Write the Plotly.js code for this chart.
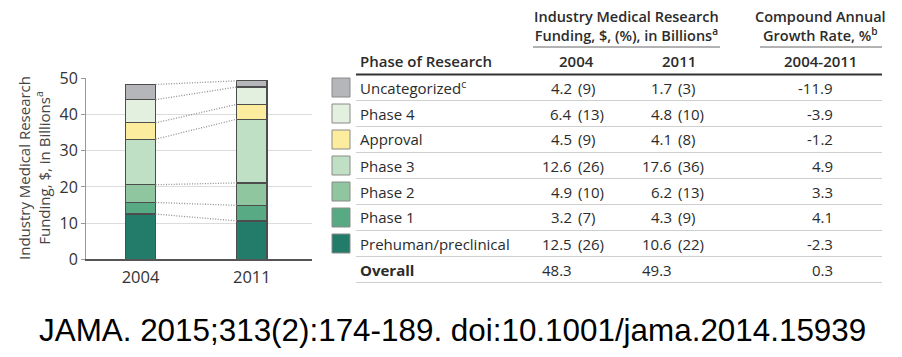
<!DOCTYPE html>
<html>
<head>
<meta charset="utf-8">
<script src="https://cdn.plot.ly/plotly-3.0.1.min.js"></script>
<style>html,body{margin:0;padding:0;background:#fff;}#chart{width:902px;height:357px;}</style>
</head>
<body>
<div id="chart"></div>
<script>
// ---- data (bottom of stack first) ----
const phases = ['Prehuman/preclinical', 'Phase 1', 'Phase 2', 'Phase 3', 'Approval', 'Phase 4', 'Uncategorized'];
const phaseLabels = ['Prehuman/preclinical', 'Phase 1', 'Phase 2', 'Phase 3', 'Approval', 'Phase 4', 'Uncategorized<sup>c</sup>'];
const years = ['2004', '2011'];
const fund2004 = [12.5, 3.2, 4.9, 12.6, 4.5, 6.4, 4.2];
const fund2011 = [10.6, 4.3, 6.2, 17.6, 4.1, 4.8, 1.7];
const pct2004 = [26, 7, 10, 26, 9, 13, 9];
const pct2011 = [22, 9, 13, 36, 8, 10, 3];
const cagr = ['-2.3', '4.1', '3.3', '4.9', '-1.2', '-3.9', '-11.9'];
const overall2004 = '48.3';
const overall2011 = '49.3';
const overallCagr = '0.3';
const yTicks = [0, 10, 20, 30, 40, 50];

// ---- styles ----
const colors = ['#237b69', '#58aa84', '#8fc6a0', '#c0e0c5', '#fcec9e', '#e3efdf', '#b5b6b9'];
const FONT = 'Open Sans, Noto Sans, sans-serif';
const TXT = '#2b2b2b';
const W = 902, H = 357;
const X = p => p / W;
const Y = p => 1 - p / H;
const barW = 0.27;

const traces = [];
phases.forEach((p, i) => {
  traces.push({
    type: 'bar', name: p, x: [0, 1], y: [fund2004[i], fund2011[i]],
    width: barW, marker: {color: colors[i], line: {color: '#4d4d4d', width: 1.2}},
    hoverinfo: 'skip', showlegend: false
  });
});
// dotted connectors between cumulative tops
let c04 = 0, c11 = 0;
phases.forEach((p, i) => {
  c04 += fund2004[i]; c11 += fund2011[i];
  traces.push({
    type: 'scatter', mode: 'lines', x: [barW / 2, 1 - barW / 2], y: [+c04.toFixed(2), +c11.toFixed(2)],
    line: {color: '#8f8f8f', width: 1.3, dash: '1px,1.6px'}, hoverinfo: 'skip', showlegend: false
  });
});

const ann = [];
const shapes = [];
function A(text, x, y, anchor, size, weight, extra) {
  ann.push(Object.assign({
    text: text, xref: 'paper', yref: 'paper', x: X(x), y: Y(y), xanchor: anchor, yanchor: 'middle',
    showarrow: false, font: {family: FONT, size: size, color: TXT, weight: weight || 400}
  }, extra || {}));
}
function L(x0, x1, y, color, width) {
  shapes.push({type: 'line', xref: 'paper', yref: 'paper', x0: X(x0), x1: X(x1), y0: Y(y), y1: Y(y),
    line: {color: color, width: width}});
}

// y-axis title
A('Industry Medical Research<br>Funding, $, in Billions<sup>a</sup>', 34, 168, 'center', 15, 400, {textangle: -90, font: {family: FONT, size: 15, color: '#444'}});

// table headers
A('Industry Medical Research<br>Funding, $, (%), in Billions<sup>a</sup>', 626, 26, 'center', 14.5, 600);
A('Compound Annual<br>Growth Rate, %<sup>b</sup>', 820, 26, 'center', 14.5, 600);
L(533, 720, 47, '#666', 1);
L(760, 882, 47, '#666', 1);
A('Phase of Research', 358, 61, 'left', 15, 600);
A(years[0], 576, 61, 'center', 15, 600);
A(years[1], 679, 61, 'center', 15, 600);
A(years[0] + '-' + years[1], 820, 61, 'center', 15, 600);
L(356, 882, 74.5, '#333', 2);

// rows (top of table = top of stack)
for (let k = 0; k < phases.length; k++) {
  const i = phases.length - 1 - k;
  const yc = 87.5 + 26 * k;
  shapes.push({type: 'rect', xref: 'paper', yref: 'paper', x0: X(332), x1: X(350), y0: Y(yc - 9.5), y1: Y(yc + 9.5),
    fillcolor: colors[i], line: {color: '#8a8a8a', width: 1}});
  A(phaseLabels[i], 358, yc, 'left', 15);
  A(fund2004[i].toFixed(1), 574, yc, 'right', 15);
  A('(' + pct2004[i] + ')', 576, yc, 'left', 15);
  A(fund2011[i].toFixed(1), 674, yc, 'right', 15);
  A('(' + pct2011[i] + ')', 676, yc, 'left', 15);
  A(cagr[i], 835, yc, 'right', 15);
  L(356, 882, yc + 13, '#cfcfcf', 1);
}
const yo = 87.5 + 26 * phases.length;
A('Overall', 358, yo, 'left', 15, 700);
A(overall2004, 574, yo, 'right', 15);
A(overall2011, 674, yo, 'right', 15);
A(overallCagr, 835, yo, 'right', 15);
L(356, 882, yo + 13, '#cfcfcf', 1);

// citation
A('JAMA. 2015;313(2):174-189. doi:10.1001/jama.2014.15939', 37, 330, 'left', 31.4, 400,
  {font: {family: 'Liberation Sans, Arial, sans-serif', size: 31.4, color: '#000'}});

const layout = {
  width: W, height: H, margin: {l: 0, r: 0, t: 0, b: 0},
  paper_bgcolor: '#fff', plot_bgcolor: '#fff', barmode: 'stack', showlegend: false,
  xaxis: {domain: [X(86), X(312)], range: [-0.49, 1.54], tickvals: [0, 1], ticktext: years,
    showgrid: false, zeroline: false, showline: true, linecolor: '#555', linewidth: 1.2, ticks: '',
    ticklabelstandoff: 3,
    tickfont: {family: FONT, size: 16.5, color: '#333'}, fixedrange: true},
  yaxis: {domain: [Y(259.3), Y(78.3)], range: [0, 50], tickvals: yTicks,
    showgrid: true, gridcolor: '#dcdcdc', gridwidth: 1, zeroline: false, showline: true, linecolor: '#999',
    ticks: 'outside', ticklen: 4, tickcolor: '#999', tickfont: {family: FONT, size: 16, color: '#333'}, fixedrange: true},
  annotations: ann, shapes: shapes
};

Plotly.newPlot('chart', traces, layout, {displayModeBar: false, staticPlot: true});
</script>
</body>
</html>
